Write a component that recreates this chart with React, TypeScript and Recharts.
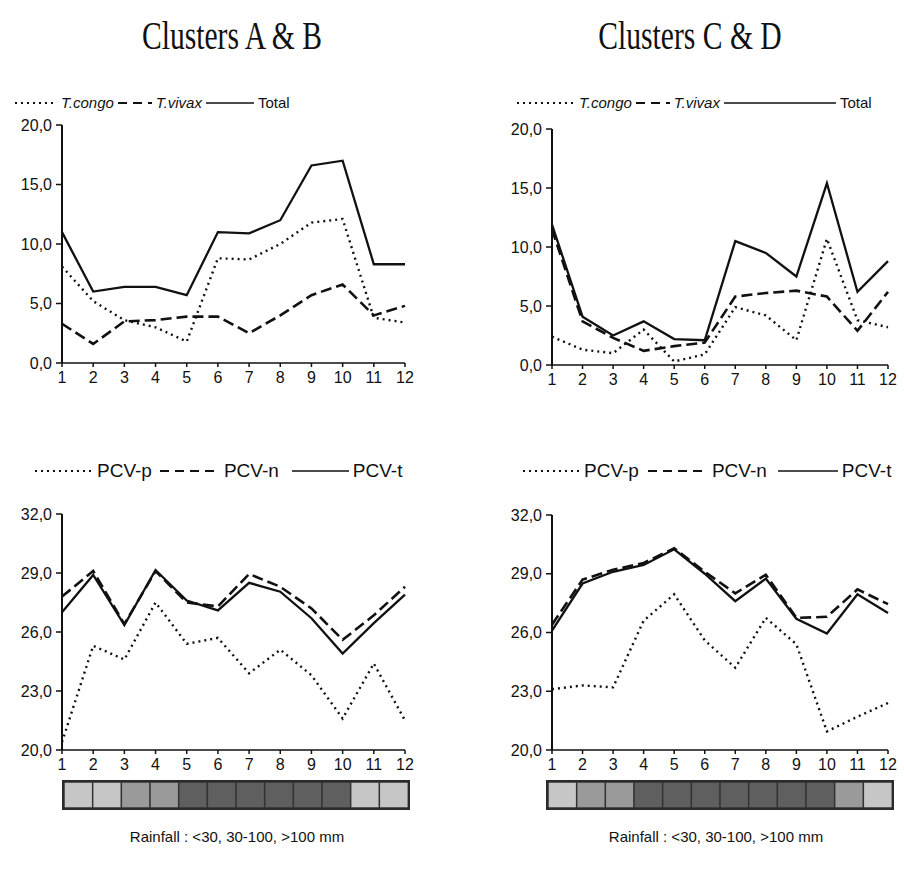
import { LineChart, Line, XAxis, YAxis, BarChart, Bar, Cell } from "recharts";

const MONTHS = [1, 2, 3, 4, 5, 6, 7, 8, 9, 10, 11, 12];

// Clusters A & B – infection rates
const CONGO_AB = [8.1, 5.2, 3.6, 3.0, 1.8, 8.8, 8.7, 10.0, 11.8, 12.1, 3.8, 3.4];
const VIVAX_AB = [3.3, 1.6, 3.5, 3.6, 3.9, 3.9, 2.5, 4.0, 5.7, 6.6, 4.0, 4.8];
const TOTAL_AB = [11.0, 6.0, 6.4, 6.4, 5.7, 11.0, 10.9, 12.0, 16.6, 17.0, 8.3, 8.3];

// Clusters C & D – infection rates
const CONGO_CD = [2.4, 1.3, 1.0, 3.0, 0.3, 0.9, 4.9, 4.2, 2.1, 10.7, 3.8, 3.2];
const VIVAX_CD = [11.5, 3.7, 2.3, 1.2, 1.6, 1.9, 5.8, 6.1, 6.3, 5.8, 2.9, 6.2];
const TOTAL_CD = [11.9, 4.1, 2.5, 3.7, 2.2, 2.1, 10.5, 9.5, 7.5, 15.4, 6.2, 8.8];

// Packed cell volume
const PCVP_AB = [20.4, 25.3, 24.6, 27.5, 25.4, 25.7, 23.9, 25.1, 23.8, 21.6, 24.4, 21.5];
const PCVN_AB = [27.8, 29.1, 26.4, 29.1, 27.5, 27.3, 28.95, 28.3, 27.2, 25.6, 26.85, 28.3];
const PCVT_AB = [27.0, 28.9, 26.35, 29.15, 27.6, 27.1, 28.5, 28.05, 26.7, 24.9, 26.45, 27.9];

const PCVP_CD = [23.1, 23.3, 23.2, 26.6, 27.95, 25.6, 24.2, 26.75, 25.4, 20.95, 21.7, 22.4];
const PCVN_CD = [26.4, 28.7, 29.2, 29.55, 30.3, 29.1, 28.0, 28.95, 26.75, 26.8, 28.2, 27.45];
const PCVT_CD = [26.1, 28.5, 29.1, 29.45, 30.25, 29.0, 27.6, 28.75, 26.7, 25.95, 27.95, 27.0];

// Rainfall class per month: 1 = <30, 2 = 30-100, 3 = >100 mm
const RAIN_AB = [1, 1, 2, 2, 3, 3, 3, 3, 3, 3, 1, 1];
const RAIN_CD = [1, 2, 2, 3, 3, 3, 3, 3, 3, 3, 2, 1];
const RAIN_COLORS = ["", "#c6c6c6", "#9a9a9a", "#5f5f5f"];

const TICKS_RATE = [0, 5, 10, 15, 20];
const TICKS_PCV = [20, 23, 26, 29, 32];

const INK = "#111";
const SANS = "'Liberation Sans', Arial, sans-serif";

const fmt = (v: number) => v.toFixed(1).replace(".", ",");

function rows(a: number[], b: number[], c: number[]) {
  return MONTHS.map((m, i) => ({ m, a: a[i], b: b[i], c: c[i] }));
}

type PanelProps = {
  left: number;
  top: number;
  width: number;
  height: number;
  margin: { top: number; right: number; left: number; bottom: number };
  data: { m: number; a: number; b: number; c: number }[];
  domain: [number, number];
  ticks: number[];
};

function Panel({ left, top, width, height, margin, data, domain, ticks }: PanelProps) {
  const tick = { fill: INK, fontSize: 16, fontFamily: SANS };
  return (
    <div style={{ position: "absolute", left, top }}>
      <LineChart width={width} height={height} data={data} margin={margin}>
        <XAxis
          dataKey="m"
          type="number"
          domain={[1, 12]}
          ticks={MONTHS}
          interval={0}
          height={30}
          tick={tick}
          tickSize={4}
          tickMargin={5}
          axisLine={{ stroke: INK, strokeWidth: 1.5 }}
          tickLine={{ stroke: INK, strokeWidth: 1.5 }}
        />
        <YAxis
          type="number"
          domain={domain}
          ticks={ticks}
          interval={0}
          width={50}
          tick={tick}
          tickSize={6}
          tickMargin={4}
          tickFormatter={fmt}
          axisLine={{ stroke: INK, strokeWidth: 2 }}
          tickLine={{ stroke: INK, strokeWidth: 1.5 }}
        />
        <Line
          dataKey="a"
          type="linear"
          stroke={INK}
          strokeWidth={2.4}
          strokeDasharray="2 4"
          dot={false}
          isAnimationActive={false}
        />
        <Line
          dataKey="b"
          type="linear"
          stroke={INK}
          strokeWidth={2.6}
          strokeDasharray="11 5"
          dot={false}
          isAnimationActive={false}
        />
        <Line
          dataKey="c"
          type="linear"
          stroke={INK}
          strokeWidth={2.3}
          dot={false}
          isAnimationActive={false}
        />
      </LineChart>
    </div>
  );
}

type LegendItem = { kind: "dot" | "dash" | "solid"; len: number; label: string; italic?: boolean; gap: number };

function Legend({ left, top, fontSize, items }: { left: number; top: number; fontSize: number; items: LegendItem[] }) {
  return (
    <div
      style={{
        position: "absolute",
        left,
        top,
        display: "flex",
        alignItems: "center",
        fontFamily: SANS,
        fontSize,
        color: INK,
        whiteSpace: "nowrap",
      }}
    >
      {items.map((it, i) => (
        <span key={i} style={{ display: "flex", alignItems: "center" }}>
          <svg width={it.len} height={6} style={{ marginRight: 4 }}>
            <line
              x1={0}
              y1={3}
              x2={it.len}
              y2={3}
              stroke={INK}
              strokeWidth={it.kind === "solid" ? 1.5 : 1.8}
              strokeDasharray={it.kind === "dot" ? "2 4" : it.kind === "dash" ? "9 6" : undefined}
            />
          </svg>
          <span style={{ fontStyle: it.italic ? "italic" : "normal", marginRight: it.gap }}>{it.label}</span>
        </span>
      ))}
    </div>
  );
}

function RainBar({ left, top, levels }: { left: number; top: number; levels: number[] }) {
  const data = levels.map((lvl, i) => ({ m: i + 1, v: 1, lvl }));
  return (
    <div style={{ position: "absolute", left, top, border: "2px solid #2b2b2b", lineHeight: 0 }}>
      <BarChart width={344} height={26} data={data} margin={{ top: 0, right: 0, left: 0, bottom: 0 }} barCategoryGap={0}>
        <XAxis dataKey="m" hide />
        <YAxis hide domain={[0, 1]} />
        <Bar dataKey="v" stroke="#333" strokeWidth={1.5} isAnimationActive={false}>
          {data.map((d, i) => (
            <Cell key={i} fill={RAIN_COLORS[d.lvl]} />
          ))}
        </Bar>
      </BarChart>
    </div>
  );
}

function Title({ cx, text }: { cx: number; text: string }) {
  return (
    <div
      style={{
        position: "absolute",
        left: cx - 150,
        top: 12,
        width: 300,
        textAlign: "center",
        fontFamily: "'Liberation Serif', 'Times New Roman', serif",
        fontSize: 40,
        color: INK,
        transform: "scaleX(0.74)",
      }}
    >
      {text}
    </div>
  );
}

function Caption({ cx }: { cx: number }) {
  return (
    <div
      style={{
        position: "absolute",
        left: cx - 150,
        top: 828,
        width: 300,
        textAlign: "center",
        fontFamily: SANS,
        fontSize: 15,
        color: INK,
      }}
    >
      Rainfall : &lt;30, 30-100, &gt;100 mm
    </div>
  );
}

export default function App() {
  const topLegendL: LegendItem[] = [
    { kind: "dot", len: 42, label: "T.congo", italic: true, gap: 4 },
    { kind: "dash", len: 34, label: "T.vivax", italic: true, gap: 4 },
    { kind: "solid", len: 48, label: "Total", gap: 0 },
  ];
  const topLegendR: LegendItem[] = [
    { kind: "dot", len: 58, label: "T.congo", italic: true, gap: 4 },
    { kind: "dash", len: 34, label: "T.vivax", italic: true, gap: 4 },
    { kind: "solid", len: 112, label: "Total", gap: 0 },
  ];
  const pcvLegendL: LegendItem[] = [
    { kind: "dot", len: 58, label: "PCV-p", gap: 8 },
    { kind: "dash", len: 60, label: "PCV-n", gap: 13 },
    { kind: "solid", len: 57, label: "PCV-t", gap: 0 },
  ];
  const pcvLegendR: LegendItem[] = [
    { kind: "dot", len: 57, label: "PCV-p", gap: 9 },
    { kind: "dash", len: 60, label: "PCV-n", gap: 11 },
    { kind: "solid", len: 60, label: "PCV-t", gap: 0 },
  ];

  return (
    <div style={{ position: "absolute", left: 0, top: 0, width: 904, height: 869, background: "#fff" }}>
      <Title cx={232} text="Clusters A & B" />
      <Title cx={690} text="Clusters C & D" />

      <Legend left={15} top={94} fontSize={15} items={topLegendL} />
      <Legend left={517} top={94} fontSize={15} items={topLegendR} />

      <Panel
        left={0}
        top={110}
        width={440}
        height={283}
        margin={{ top: 15, right: 35, left: 12, bottom: 0 }}
        data={rows(CONGO_AB, VIVAX_AB, TOTAL_AB)}
        domain={[0, 20]}
        ticks={TICKS_RATE}
      />
      <Panel
        left={450}
        top={110}
        width={454}
        height={285}
        margin={{ top: 19, right: 16, left: 52, bottom: 0 }}
        data={rows(CONGO_CD, VIVAX_CD, TOTAL_CD)}
        domain={[0, 20]}
        ticks={TICKS_RATE}
      />

      <Legend left={35} top={460} fontSize={19} items={pcvLegendL} />
      <Legend left={523} top={460} fontSize={19} items={pcvLegendR} />

      <Panel
        left={0}
        top={500}
        width={440}
        height={280}
        margin={{ top: 14, right: 35, left: 12, bottom: 0 }}
        data={rows(PCVP_AB, PCVN_AB, PCVT_AB)}
        domain={[20, 32]}
        ticks={TICKS_PCV}
      />
      <Panel
        left={450}
        top={500}
        width={454}
        height={280}
        margin={{ top: 15, right: 16, left: 52, bottom: 0 }}
        data={rows(PCVP_CD, PCVN_CD, PCVT_CD)}
        domain={[20, 32]}
        ticks={TICKS_PCV}
      />

      <RainBar left={62} top={780} levels={RAIN_AB} />
      <RainBar left={546} top={780} levels={RAIN_CD} />
      <Caption cx={237} />
      <Caption cx={716} />
    </div>
  );
}
